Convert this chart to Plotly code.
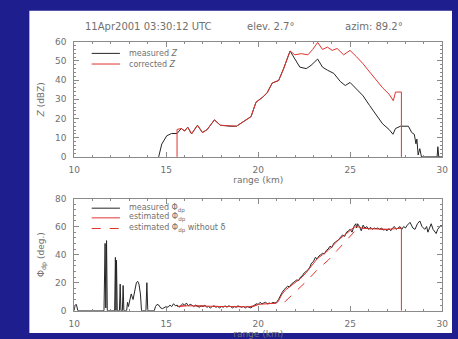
import plotly.graph_objects as go

W, H = 458, 339

# ---------------- data ----------------
# Top panel: reflectivity vs range
z_meas_km = [14.59, 14.76, 15.03, 15.29, 15.59, 15.82, 16.0, 16.17, 16.38, 16.7, 16.97, 17.23,
             17.62, 17.94, 18.47, 18.82, 19.17, 19.61, 19.88, 20.23, 20.49, 20.76, 21.11, 21.38,
             21.73, 21.99, 22.26, 22.61, 22.87, 23.23, 23.49, 23.76, 24.11, 24.46, 24.73, 24.99,
             25.34, 25.7, 26.05, 26.4, 26.76, 27.11, 27.32, 27.46, 27.73, 28.16, 28.34, 28.48,
             28.57, 28.62, 28.69, 28.78, 28.87, 29.05, 29.72, 29.76, 29.81, 30.0]
z_meas = [0, 6.7, 11, 12.2, 12.2, 14.8, 13.5, 15.5, 12, 16.5, 12.7, 14.3,
          19.3, 16.5, 16, 16, 18.2, 21, 28.5, 31, 33.5, 38.5, 39.8, 46,
          55.2, 51, 46.8, 46, 47.7, 51, 46.8, 45.2, 43.5, 39.3, 37.2, 38.8,
          35.5, 31.8, 26.8, 21.8, 17.2, 14.3, 11.8, 14.8, 16, 16, 12.7, 11.8,
          6.8, 9.3, 1, 4.3, 0, 0, 0, 5.3, 0, 0]

z_corr_km = [15.59, 15.59, 15.82, 16.0, 16.17, 16.38, 16.7, 16.97, 17.23, 17.62, 17.94, 18.47,
             18.82, 19.17, 19.61, 19.88, 20.23, 20.49, 20.76, 21.11, 21.38, 21.73, 21.99, 22.34,
             22.7, 22.96, 23.23, 23.49, 23.76, 24.02, 24.29, 24.64, 24.99, 25.34, 25.7, 26.05,
             26.4, 26.76, 27.11, 27.34, 27.46, 27.78, 27.78]
z_corr = [0, 14.3, 14.8, 13.5, 15.5, 12, 16.5, 12.7, 14.3, 19.3, 16.5, 16,
          16, 18.2, 21, 28.5, 31, 33.5, 38.5, 39.8, 46, 55.2, 53.2, 53.8,
          53.2, 56, 59.7, 56, 57.2, 55.5, 56.5, 53.2, 55.5, 52.2, 48.5, 44.3,
          40.2, 36, 32.7, 29.3, 33.8, 33.8, 0]

# Bottom panel: differential phase vs range
phi_meas_km = [10.0, 10.05, 10.12, 10.2, 11.62, 11.68, 11.72, 11.76, 11.8, 12.2, 12.24, 12.27,
               12.3, 12.34, 12.46, 12.5, 12.54, 12.62, 12.66, 12.7, 12.85, 12.9, 12.95, 13.05,
               13.1, 13.2, 13.3, 13.38, 13.45, 13.52, 13.6, 13.66, 13.9, 13.95, 14.0, 14.35,
               14.42, 14.5, 14.6, 14.7, 14.8, 14.9, 15.0, 15.1, 15.2, 15.3, 15.4, 15.5,
               15.6, 15.7, 15.8, 15.9, 16.0, 16.1, 16.2, 16.3, 16.4, 16.5, 16.6, 16.7,
               16.8, 16.9, 17.0, 17.1, 17.2, 17.3, 17.4, 17.5, 17.6, 17.7, 17.8, 17.9,
               18.0, 18.1, 18.2, 18.3, 18.4, 18.5, 18.6, 18.7, 18.8, 18.9, 19.0, 19.1,
               19.2, 19.3, 19.4, 19.5, 19.6, 19.7, 19.8, 19.9, 20.0, 20.1, 20.2, 20.3,
               20.4, 20.5, 20.6, 20.7, 20.8, 20.9, 21.0, 21.1, 21.2, 21.3, 21.4, 21.5,
               21.6, 21.7, 21.8, 21.9, 22.0, 22.1, 22.2, 22.3, 22.4, 22.5, 22.6, 22.7,
               22.8, 22.9, 23.0, 23.1, 23.2, 23.3, 23.4, 23.5, 23.6, 23.7, 23.8, 23.9,
               24.0, 24.1, 24.2, 24.3, 24.4, 24.5, 24.6, 24.7, 24.8, 24.9, 25.0, 25.1,
               25.2, 25.3, 25.35, 25.4, 25.5, 25.6, 25.7, 25.8, 25.9, 26.0, 26.1, 26.2,
               26.3, 26.4, 26.5, 26.6, 26.7, 26.8, 26.9, 27.0, 27.1, 27.2, 27.3, 27.4,
               27.5, 27.6, 27.7, 27.8, 27.9, 28.0, 28.1, 28.25, 28.4, 28.52, 28.65, 28.78,
               28.9, 29.05, 29.15, 29.22, 29.3, 29.4, 29.5, 29.6, 29.67, 29.75, 29.85, 29.93, 30.0]
phi_meas = [0, 4, 4.5, 0, 0, 48, 2, 50, 0, 0, 38, 0,
            36, 0, 0, 19, 0, 0, 18, 0, 0, 6, 3, 9,
            12, 8, 15, 20, 21, 19, 12, 0, 0, 20, 0, 0,
            3, 4.5, 4, 2, 1.5, 2, 3, 2.5, 4, 3, 5, 3.5,
            4, 2.5, 3.5, 5, 4, 5.5, 3.5, 4.5, 4, 3, 4, 3.5,
            2.5, 3.5, 3, 4, 2.5, 3, 2, 3, 3.5, 2.5, 3, 2,
            3, 2.5, 3.5, 2.5, 3.5, 3, 2, 3, 2.5, 3.5, 3, 2.5,
            3, 2, 3, 2.5, 2, 3, 4, 5, 4.5, 6, 5, 5.5,
            6, 5, 5.5, 5, 6, 5.5, 6, 8, 11, 13, 15, 16,
            17.5, 17, 19, 20, 21, 22, 21.5, 24, 25, 27, 28, 29,
            31, 34, 35, 38, 37, 39, 40, 41, 40.5, 43, 44, 46,
            45, 48, 49, 50, 51, 53, 54, 53, 56, 57, 58, 56,
            60, 62, 59, 62, 60, 57, 61, 59, 60, 58, 59.5, 58,
            59, 58.5, 59, 58, 59, 57.5, 58, 57, 58.5, 57, 59, 60,
            58, 59, 60, 58, 60, 59, 61, 63, 59, 58, 62, 64,
            60, 58, 60, 56, 59, 62, 58, 56, 55, 58, 60, 61, 60]

phi_est_km = [15.6, 16.0, 16.5, 17.0, 17.5, 18.0, 18.5, 19.0, 19.5, 19.8, 20.0, 20.5, 21.0,
              21.1, 21.3, 21.5, 21.7, 22.0, 22.3, 22.6, 22.9, 23.2, 23.5, 23.8, 24.1, 24.4,
              24.7, 25.0, 25.2, 25.4, 25.6, 26.0, 26.5, 27.0, 27.5, 27.78, 27.78]
phi_est = [3, 3.5, 3.5, 3.2, 3, 3, 3, 2.8, 2.8, 3.5, 4.5, 5, 5.5,
           7, 12, 15, 17, 20, 23, 27, 32, 37, 40, 43, 47, 51,
           54, 57, 59.5, 60, 59, 58.5, 58, 58, 58.5, 59, 0]

phi_nodelta_km = [15.6, 16.0, 16.5, 17.0, 17.5, 18.0, 18.5, 19.0, 19.5, 19.8, 20.0, 20.5, 21.0,
                  21.46, 22.17, 22.7, 23.23, 23.8, 24.29, 24.99, 25.34, 25.6, 26.0, 26.5, 27.0,
                  27.5, 27.78]
phi_nodelta = [3, 3.5, 3.5, 3.2, 3, 3, 3, 2.8, 2.8, 3.5, 4.5, 5, 5.5,
               6.5, 15.5, 22, 29.5, 36, 43, 52.5, 58, 59, 58.5, 58, 58,
               58.5, 59]

x_ticks = [10, 15, 20, 25, 30]
z_ticks = [0, 10, 20, 30, 40, 50, 60]
phi_ticks = [0, 20, 40, 60, 80]

title_parts = ["11Apr2001 03:30:12 UTC", "elev. 2.7°", "azim: 89.2°"]
legend_top = ["measured <i>Z</i>", "corrected <i>Z</i>"]
legend_bot = ["measured Φ<sub>dp</sub>", "estimated Φ<sub>dp</sub>",
              "estimated Φ<sub>dp</sub> without δ"]

# ---------------- styling ----------------
BLUE = "#1e1e8e"
BLACK = "#262626"
RED = "#e0342f"
GREY = "#8a8a8a"
TXT = "#707070"
FONT = "DejaVu Sans"


def px(x):
    return x / W


def py(y):
    return 1 - y / H


fig = go.Figure()

fig.add_trace(go.Scatter(x=z_meas_km, y=z_meas, mode="lines", line=dict(color=BLACK, width=1),
                         xaxis="x", yaxis="y", showlegend=False))
fig.add_trace(go.Scatter(x=z_corr_km, y=z_corr, mode="lines", line=dict(color=RED, width=1),
                         xaxis="x", yaxis="y", showlegend=False))

fig.add_trace(go.Scatter(x=phi_nodelta_km, y=phi_nodelta, mode="lines",
                         line=dict(color=RED, width=1, dash="dash"),
                         xaxis="x2", yaxis="y2", showlegend=False))
fig.add_trace(go.Scatter(x=phi_meas_km, y=phi_meas, mode="lines", line=dict(color=BLACK, width=1),
                         xaxis="x2", yaxis="y2", showlegend=False))
fig.add_trace(go.Scatter(x=phi_est_km, y=phi_est, mode="lines", line=dict(color=RED, width=1),
                         xaxis="x2", yaxis="y2", showlegend=False))


def xax(anchor, title, standoff):
    return dict(domain=[px(70), px(448)], anchor=anchor, range=[10, 30], tickvals=x_ticks,
                showline=True, linecolor=GREY, linewidth=1, mirror="ticks",
                ticks="inside", ticklen=5, tickcolor=GREY, tickwidth=1,
                minor=dict(ticks="inside", ticklen=2, dtick=1, tickcolor=GREY),
                showgrid=False, zeroline=False, ticklabelstandoff=4,
                tickfont=dict(family=FONT, size=9, color=TXT),
                title=dict(text=title, font=dict(family=FONT, size=9, color=TXT),
                           standoff=standoff))


def yax(anchor, dom, rng, ticks, mdt, title):
    return dict(domain=dom, anchor=anchor, range=rng, tickvals=ticks,
                showline=True, linecolor=GREY, linewidth=1, mirror="ticks",
                ticks="inside", ticklen=5, tickcolor=GREY, tickwidth=1,
                minor=dict(ticks="inside", ticklen=2, dtick=mdt, tickcolor=GREY),
                showgrid=False, zeroline=False, ticklabelstandoff=5,
                tickfont=dict(family=FONT, size=9, color=TXT),
                title=dict(text=title, font=dict(family=FONT, size=9, color=TXT), standoff=8))


annotations = []
for txt, cx in zip(title_parts, [146, 272, 378]):
    annotations.append(dict(text=txt, x=px(cx), y=py(22), xref="paper", yref="paper",
                            showarrow=False, xanchor="center", yanchor="middle",
                            font=dict(family=FONT, size=10, color=TXT)))

shapes = [dict(type="rect", xref="paper", yref="paper", x0=px(24), x1=1.0, y0=0, y1=py(6),
               fillcolor="white", line=dict(width=0), layer="below")]

for txt, yy, col in zip(legend_top, [50, 61], [BLACK, RED]):
    shapes.append(dict(type="line", xref="paper", yref="paper", x0=px(88), x1=px(117),
                       y0=py(yy), y1=py(yy), line=dict(color=col, width=1)))
    annotations.append(dict(text=txt, x=px(124), y=py(yy), xref="paper", yref="paper",
                            showarrow=False, xanchor="left", yanchor="middle",
                            font=dict(family=FONT, size=8, color=TXT)))

for txt, yy, col, dash in zip(legend_bot, [210, 220, 231], [BLACK, RED, RED],
                               ["solid", "solid", "dash"]):
    shapes.append(dict(type="line", xref="paper", yref="paper", x0=px(88), x1=px(117),
                       y0=py(yy), y1=py(yy), line=dict(color=col, width=1, dash=dash)))
    annotations.append(dict(text=txt, x=px(124), y=py(yy), xref="paper", yref="paper",
                            showarrow=False, xanchor="left", yanchor="middle",
                            font=dict(family=FONT, size=8, color=TXT)))

fig.update_layout(
    width=W, height=H, margin=dict(l=0, r=0, t=0, b=0),
    paper_bgcolor=BLUE, plot_bgcolor="white",
    xaxis=xax("y", "range (km)", 2),
    yaxis=yax("x", [py(157), py(38)], [0, 60], z_ticks, 2, "<i>Z</i> (dBZ)"),
    xaxis2=xax("y2", "range (km)", 4),
    yaxis2=yax("x2", [py(316), py(200)], [0, 80], phi_ticks, 4, "Φ<sub>dp</sub> (deg.)"),
    annotations=annotations, shapes=shapes,
)

fig.write_html("out.html")
